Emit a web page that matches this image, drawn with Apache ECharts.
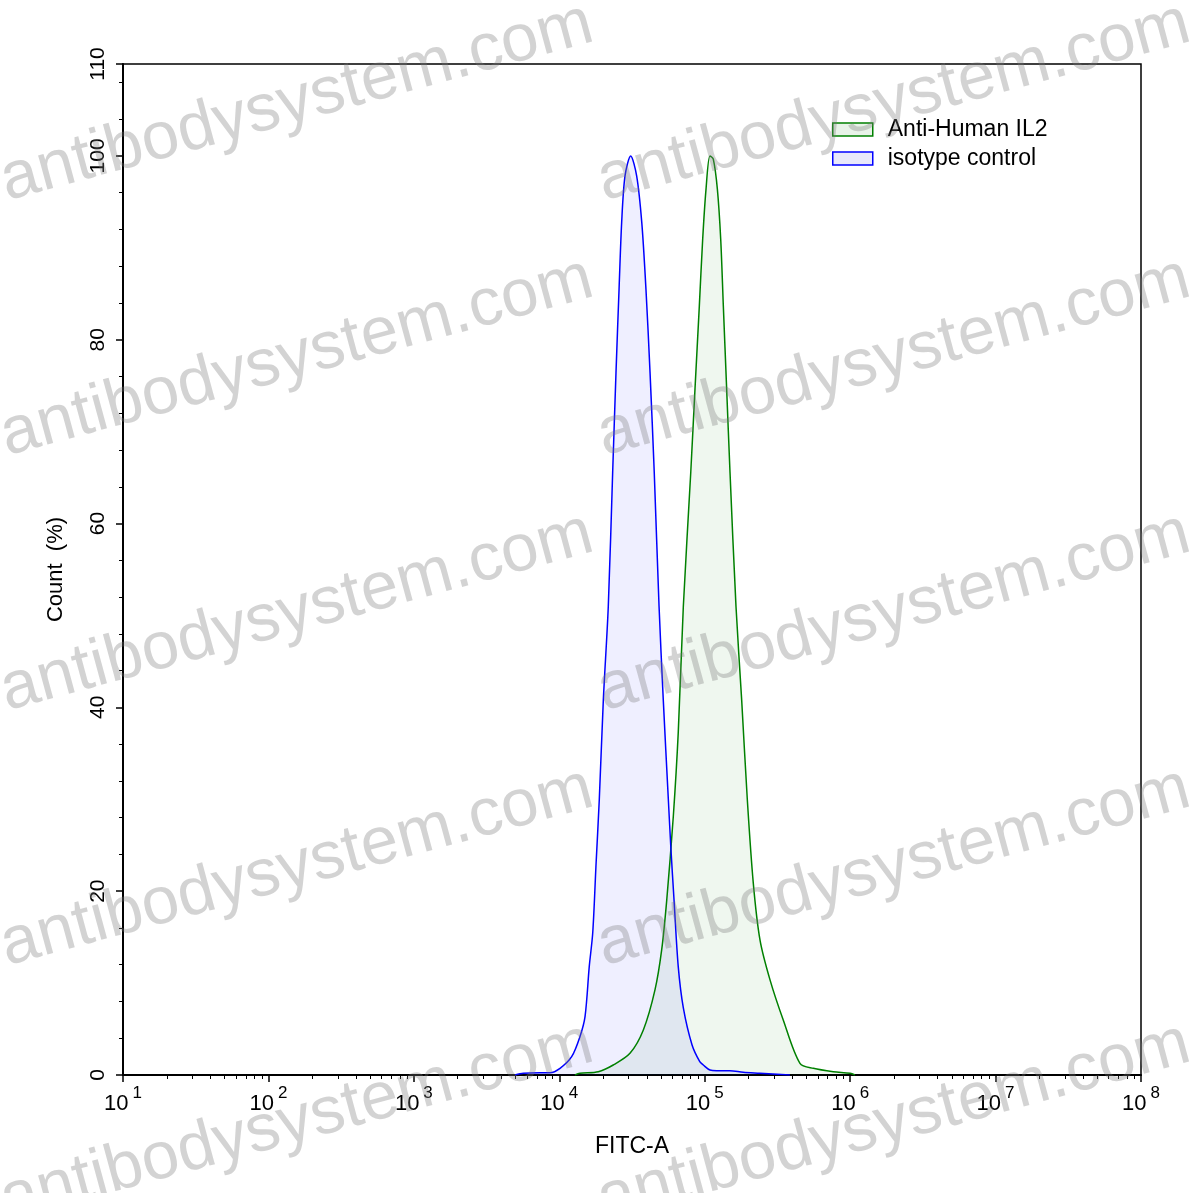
<!DOCTYPE html>
<html>
<head>
<meta charset="utf-8">
<script src="https://cdn.jsdelivr.net/npm/echarts@6/dist/echarts.min.js"></script>
<style>
html,body{margin:0;padding:0;background:#fff;}
#chart{width:1197px;height:1193px;}
</style>
</head>
<body>
<div id="chart"></div>
<script>
// FITC-A positions in log10 units, Count in %
const isoLog = [3.695,3.753,3.867,3.936,4.005,4.085,4.142,4.177,4.206,4.230,4.252,4.275,4.303,4.337,4.367,4.390,4.411,4.429,4.452,4.491,4.532,4.567,4.596,4.624,4.653,4.686,4.715,4.750,4.768,4.789,4.818,4.853,4.913,4.966,4.990,5.036,5.082,5.173,5.265,5.380,5.586];
const isoCount = [0,0.19,0.25,0.25,0.73,1.99,4.17,6.35,11.79,15.47,22.69,29.95,40.84,51.0,65.56,76.45,85.49,92.79,97.83,100,97.83,92.79,85.49,76.45,65.56,51.0,40.84,29.95,24.5,19.06,11.79,7.3,3.27,1.45,1.09,0.54,0.47,0.47,0.29,0.19,0];
const il2Log = [4.108,4.142,4.268,4.371,4.486,4.578,4.658,4.704,4.739,4.784,4.818,4.853,4.904,4.933,4.963,4.986,5.009,5.036,5.059,5.087,5.110,5.128,5.151,5.174,5.215,5.254,5.293,5.334,5.380,5.449,5.540,5.655,5.747,5.884,6.000,6.033];
const il2Count = [0,0.19,0.36,1.09,2.36,4.90,9.26,13.61,19.06,28.13,37.25,51.0,65.56,74.60,83.68,90.94,96.39,100,99.65,96.39,90.94,83.68,74.60,65.56,51.0,40.84,29.95,20.88,14.70,10.35,5.99,1.27,0.73,0.36,0.19,0];
const seriesNames = ['Anti-Human IL2','isotype control'];
const xDecades = [1,2,3,4,5,6,7,8];
const yMajorTicks = [0,20,40,60,80,100,110];
const yMinorTicks = [4,8,12,16,24,28,32,36,44,48,52,56,64,68,72,76,84,88,92,96,104,108];
const minorMultipliers = [2,3,4,5,6,7,8,9];
const xMinorTicks = [];
xDecades.slice(0,-1).forEach(d => minorMultipliers.forEach(k => xMinorTicks.push(d + Math.log10(k))));

const zip = (a,b) => a.map((v,i) => [v,b[i]]);
const FONT = 'Liberation Sans, Arial, sans-serif';

const wmText = 'antibodysystem.com';
const wmRowsY = [215, 470, 725, 980, 1235];
const wmColsX = [11, 608];
const graphics = [];
wmRowsY.forEach(y => wmColsX.forEach(x => graphics.push({
  type:'text', x:x, y:y, rotation: 15.2*Math.PI/180, z:100, silent:true,
  style:{text:wmText, font:'67px ' + FONT, fill:'rgba(120,120,120,0.33)', textVerticalAlign:'bottom', textAlign:'left'}
})));

const chart = echarts.init(document.getElementById('chart'), null, {renderer:'canvas'});
chart.setOption({
  animation:false,
  backgroundColor:'#fff',
  textStyle:{fontFamily:FONT},
  grid:{left:123, top:64, right:56, bottom:118, show:true, borderColor:'#000', borderWidth:1.5, backgroundColor:'transparent'},
  legend:{
    orient:'vertical', left:832, top:118, padding:0, itemWidth:40, itemHeight:13, itemGap:6, icon:'rect',
    textStyle:{fontSize:23, color:'#000', fontFamily:FONT, padding:[0,0,0,10]},
    data:[
      {name:seriesNames[0], itemStyle:{color:'#e8f3e8', borderColor:'#008000', borderWidth:1.5}},
      {name:seriesNames[1], itemStyle:{color:'#e8e8fa', borderColor:'#0000ff', borderWidth:1.5}}
    ]
  },
  xAxis:[{
    type:'value', min:1, max:8, interval:1, position:'bottom',
    name:'FITC-A', nameLocation:'middle', nameGap:60,
    nameTextStyle:{fontSize:23, color:'#000', fontFamily:FONT},
    axisLine:{show:true, lineStyle:{color:'#000', width:2}},
    axisTick:{show:true, length:7, inside:false, lineStyle:{color:'#000', width:1.5}, customValues:xDecades},
    axisLabel:{show:true, margin:10, color:'#000', customValues:xDecades,
      formatter: v => '{b|10}{s|' + Math.round(v) + '}',
      rich:{b:{fontSize:22, fontFamily:FONT, color:'#000', lineHeight:30, verticalAlign:'bottom'},
            s:{fontSize:17, fontFamily:FONT, color:'#000', lineHeight:30, verticalAlign:'top', padding:[0,0,0,4]}}},
    splitLine:{show:false}
  },{
    type:'value', min:1, max:8, position:'bottom',
    axisLine:{show:false},
    axisTick:{show:true, length:4, lineStyle:{color:'#000', width:1}, customValues:xMinorTicks},
    axisLabel:{show:false}, splitLine:{show:false}
  }],
  yAxis:[{
    type:'value', min:0, max:110, position:'left',
    name:'Count  (%)', nameLocation:'middle', nameGap:56,
    nameTextStyle:{fontSize:22, color:'#000', fontFamily:FONT},
    axisLine:{show:true, lineStyle:{color:'#000', width:2}},
    axisTick:{show:true, length:7, lineStyle:{color:'#000', width:1.5}, customValues:yMajorTicks},
    axisLabel:{show:true, rotate:90, margin:14, fontSize:21, color:'#000', fontFamily:FONT, customValues:yMajorTicks},
    splitLine:{show:false}
  },{
    type:'value', min:0, max:110, position:'left',
    axisLine:{show:false},
    axisTick:{show:true, length:4, lineStyle:{color:'#000', width:1}, customValues:yMinorTicks},
    axisLabel:{show:false}, splitLine:{show:false}
  }],
  series:[{
    name:seriesNames[0], type:'line', xAxisIndex:0, yAxisIndex:0, smooth:0.3, showSymbol:false,
    lineStyle:{color:'#008000', width:1.5}, itemStyle:{color:'#008000'},
    areaStyle:{color:'rgba(0,128,0,0.09)'},
    data:zip(il2Log, il2Count)
  },{
    name:seriesNames[1], type:'line', xAxisIndex:0, yAxisIndex:0, smooth:0.3, showSymbol:false,
    lineStyle:{color:'#0000ff', width:1.5}, itemStyle:{color:'#0000ff'},
    areaStyle:{color:'rgba(0,0,255,0.09)'},
    data:zip(isoLog, isoCount)
  }],
  graphic:graphics
});
</script>
</body>
</html>
